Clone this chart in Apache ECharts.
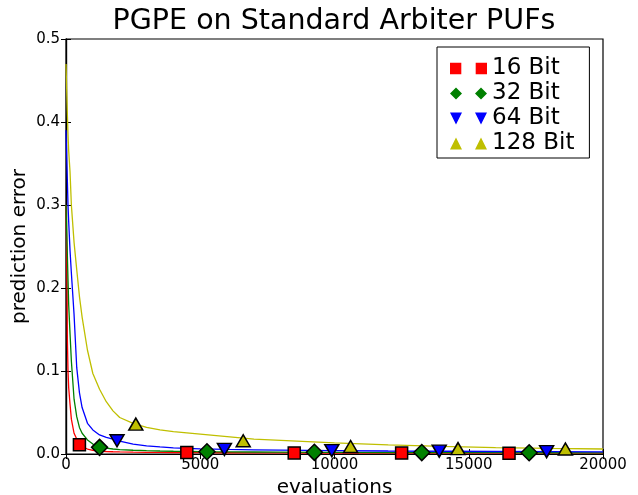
<!DOCTYPE html>
<html>
<head>
<meta charset="utf-8">
<script src="https://cdn.jsdelivr.net/npm/echarts@6/dist/echarts.min.js"></script>
<style>
    html, body { margin: 0; padding: 0; background: #fff; }
    #chart { width: 638px; height: 495px; }
</style>
</head>
<body>
<div id="chart"></div>
<script>
var evals = [0, 25, 50, 75, 100, 150, 200, 300, 400, 500, 600, 800, 1000, 1250, 1500, 1750,
    2000, 2500, 3000, 3500, 4000, 5000, 6000, 7000, 8000, 10000, 12000, 14000, 16000, 18000, 20000];

var err16 = [0.30, 0.25, 0.14, 0.10, 0.08, 0.06, 0.042, 0.025, 0.018, 0.012, 0.009, 0.006, 0.0045, 0.0035, 0.003, 0.0027,
    0.0025, 0.0022, 0.002, 0.0019, 0.0018, 0.0016, 0.0015, 0.0014, 0.0013, 0.0012, 0.0011, 0.0011, 0.001, 0.001, 0.001];
var err32 = [0.30, 0.27, 0.24, 0.21, 0.18, 0.145, 0.112, 0.066, 0.045, 0.032, 0.025, 0.017, 0.012, 0.0085, 0.007, 0.006,
    0.0052, 0.0045, 0.004, 0.0036, 0.0033, 0.0029, 0.0026, 0.0024, 0.0022, 0.002, 0.0018, 0.0017, 0.0016, 0.0015, 0.0014];
var err64 = [0.39, 0.36, 0.33, 0.30, 0.28, 0.245, 0.218, 0.168, 0.104, 0.074, 0.056, 0.037, 0.029, 0.023, 0.020, 0.018,
    0.0155, 0.012, 0.0098, 0.0085, 0.0075, 0.0062, 0.0055, 0.005, 0.0046, 0.004, 0.0036, 0.0033, 0.003, 0.0028, 0.0026];
var err128 = [0.47, 0.44, 0.41, 0.385, 0.365, 0.34, 0.30, 0.255, 0.222, 0.19, 0.165, 0.125, 0.097, 0.078, 0.063, 0.052,
    0.044, 0.037, 0.032, 0.029, 0.027, 0.024, 0.021, 0.018, 0.0165, 0.0135, 0.011, 0.0092, 0.0078, 0.0068, 0.006];

// sparse markers
var markX16 = [500, 4500, 8500, 12500, 16500];
var markY16 = [0.011, 0.0017, 0.0013, 0.0011, 0.001];
var markX32 = [1250, 5250, 9250, 13250, 17250];
var markY32 = [0.008, 0.0027, 0.002, 0.0017, 0.0015];
var markX64 = [1900, 5900, 9900, 13900, 17900];
var markY64 = [0.016, 0.0056, 0.004, 0.0034, 0.0029];
var markX128 = [2600, 6600, 10600, 14600, 18600];
var markY128 = [0.036, 0.016, 0.009, 0.0065, 0.006];

var names = ['16 Bit', '32 Bit', '64 Bit', '128 Bit'];
var xTicks = [0, 5000, 10000, 15000, 20000];
var yTicks = [0.0, 0.1, 0.2, 0.3, 0.4, 0.5];

var colors = ['#ff0000', '#008000', '#0000ff', '#bfbf00'];
var font = 'DejaVu Sans';

function pairs(xs, ys) {
    return xs.map(function (x, i) { return [x, ys[i]]; });
}

function curve(name, ys, color) {
    return {
        name: name,
        type: 'line',
        showSymbol: false,
        symbol: 'none',
        silent: true,
        lineStyle: {color: color, width: 1.3},
        data: pairs(evals, ys)
    };
}

function marks(name, xs, ys, color, symbol, size, rotate) {
    return {
        name: name,
        type: 'scatter',
        symbol: symbol,
        symbolSize: size,
        symbolRotate: rotate || 0,
        clip: false,
        z: 5,
        itemStyle: {color: color, borderColor: '#000', borderWidth: 1.5, opacity: 1},
        data: pairs(xs, ys)
    };
}

// two markers per legend entry, like matplotlib's numpoints=2
var icons = [
    'path://M0.5,0.5h11v11h-11z M25.5,0.5h11v11h-11z',
    'path://M6,0L12,6L6,12L0,6Z M31,0L37,6L31,12L25,6Z',
    'path://M0,0H12L6,12Z M25,0H37L31,12Z',
    'path://M6,0L12,12H0Z M31,0L37,12H25Z'
];

var chart = echarts.init(document.getElementById('chart'), null, {renderer: 'canvas'});

var tickStyle = {show: true, inside: true, length: 5, lineStyle: {color: '#000', width: 1}};

chart.setOption({
    animation: false,
    backgroundColor: '#fff',
    title: {
        text: 'PGPE on Standard Arbiter PUFs',
        left: 334,
        top: 7,
        padding: 0,
        textAlign: 'center',
        textStyle: {fontFamily: font, fontSize: 28.5, fontWeight: 'normal', color: '#000'}
    },
    legend: {
        orient: 'vertical',
        left: 437,
        top: 47,
        padding: [9, 15, 2, 13],
        itemGap: 0,
        itemWidth: 37,
        itemHeight: 12,
        selectedMode: false,
        backgroundColor: '#fff',
        borderColor: '#000',
        borderWidth: 1,
        borderRadius: 0,
        itemStyle: {borderWidth: 0},
        textStyle: {fontFamily: font, fontSize: 23, lineHeight: 25, color: '#000'},
        data: names.map(function (n, i) { return {name: n, icon: icons[i]}; })
    },
    grid: {
        left: 66,
        right: 35,
        top: 39,
        bottom: 41,
        outerBoundsMode: 'none',
        containLabel: false,
        show: true,
        borderColor: '#000',
        borderWidth: 1.2,
        backgroundColor: '#fff'
    },
    xAxis: [
        {
            type: 'value',
            min: xTicks[0],
            max: xTicks[xTicks.length - 1],
            interval: xTicks[1] - xTicks[0],
            name: 'evaluations',
            nameLocation: 'middle',
            nameGap: 24,
            nameMoveOverlap: false,
            nameTextStyle: {fontFamily: font, fontSize: 20, color: '#000'},
            axisLine: {show: true, lineStyle: {color: '#000', width: 1.2}},
            axisTick: tickStyle,
            splitLine: {show: false},
            axisLabel: {
                fontFamily: font, fontSize: 15, color: '#000', margin: 4,
                formatter: function (v) { return String(v); }
            }
        },
        {
            type: 'value',
            position: 'top',
            min: xTicks[0],
            max: xTicks[xTicks.length - 1],
            interval: xTicks[1] - xTicks[0],
            axisLine: {show: true, lineStyle: {color: '#000', width: 1.2}},
            axisTick: tickStyle,
            splitLine: {show: false},
            axisLabel: {show: false}
        }
    ],
    yAxis: [
        {
            type: 'value',
            min: yTicks[0],
            max: yTicks[yTicks.length - 1],
            interval: 0.1,
            name: 'prediction error',
            nameLocation: 'middle',
            nameGap: 36,
            nameMoveOverlap: false,
            nameTextStyle: {fontFamily: font, fontSize: 20, color: '#000'},
            axisLine: {show: true, lineStyle: {color: '#000', width: 1.2}},
            axisTick: tickStyle,
            splitLine: {show: false},
            axisLabel: {
                fontFamily: font, fontSize: 15, color: '#000', margin: 6,
                formatter: function (v) { return v.toFixed(1); }
            }
        },
        {
            type: 'value',
            position: 'right',
            min: yTicks[0],
            max: yTicks[yTicks.length - 1],
            interval: 0.1,
            axisLine: {show: true, lineStyle: {color: '#000', width: 1.2}},
            axisTick: tickStyle,
            splitLine: {show: false},
            axisLabel: {show: false}
        }
    ],
    series: [
        curve('16 Bit curve', err16, colors[0]),
        curve('32 Bit curve', err32, colors[1]),
        curve('64 Bit curve', err64, colors[2]),
        curve('128 Bit curve', err128, colors[3]),
        marks(names[0], markX16, markY16, colors[0], 'rect', 12),
        marks(names[1], markX32, markY32, colors[1], 'diamond', 16),
        marks(names[2], markX64, markY64, colors[2], 'triangle', [14, 12], 180),
        marks(names[3], markX128, markY128, colors[3], 'triangle', [14, 12])
    ]
});
</script>
</body>
</html>
